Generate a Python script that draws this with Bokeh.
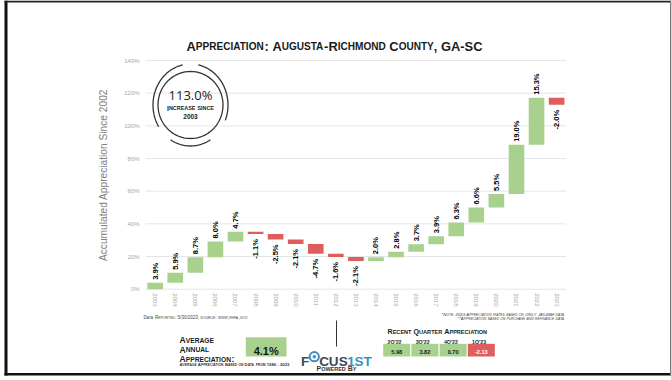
import math
from bokeh.plotting import figure
from bokeh.models import Range1d, LinearAxis, FixedTicker, PrintfTickFormatter, CustomJSTickFormatter
from bokeh.core.properties import value
from bokeh.embed import file_html
from bokeh.resources import INLINE

# ---------------- data ----------------
years = ["2003", "2004", "2005", "2006", "2007", "2008", "2009", "2010", "2011", "2012", "2013",
         "2014", "2015", "2016", "2017", "2018", "2019", "2020", "2021", "2022", "2023"]
rates = [3.9, 5.9, 8.7, 8.0, 4.7, -1.1, -2.5, -2.1, -4.7, -1.6, -2.1,
         2.0, 2.8, 3.7, 3.9, 6.3, 6.6, 5.5, 19.0, 15.3, -2.0]
y_ticks = [0, 20, 40, 60, 80, 100, 120, 140]
total_increase = "113.0%"
since_year = "2003"
avg_annual = "4.1%"
quarters = ["2Q'22", "3Q'22", "4Q'22", "1Q'23"]
quarter_values = [5.98, 3.82, 0.70, -2.13]

# ---------------- layout constants (pixels) ----------------
W, H = 671, 380
PLOT_TOP, PLOT_BOTTOM = 60.0, 288.7      # pixel rows of 140% and 0%
Y_MAX = 140.0
X_FIRST, X_STEP = 154.7, 20.07           # pixel centre of first bar, bar spacing

GREEN = "#A9D18E"
RED = "#E05D5D"
FONT = "Liberation Sans"

p = figure(width=W, height=H, x_range=Range1d(0, W), y_range=Range1d(H, 0),
           x_axis_type=None, y_axis_type=None, toolbar_location=None,
           output_backend="svg", min_border=0, outline_line_color=None,
           background_fill_color="white", border_fill_color="white")
p.min_border_left = p.min_border_right = p.min_border_top = p.min_border_bottom = 0

k = (PLOT_BOTTOM - PLOT_TOP) / Y_MAX
ys0 = -(H - PLOT_BOTTOM) / k
p.extra_y_ranges = {"pct": Range1d(ys0, ys0 + H / k)}
xs0 = -X_FIRST / X_STEP
p.extra_x_ranges = {"yr": Range1d(xs0, xs0 + W / X_STEP)}

# ---------------- small-caps text helper ----------------
BOLD_W = {' ': 278, '!': 333, '%': 889, "'": 238, '*': 389, ',': 278, '-': 333, '.': 278, '/': 278, ':': 333,
          'A': 722, 'B': 722, 'C': 722, 'D': 722, 'E': 667, 'F': 611, 'G': 778, 'H': 722, 'I': 278, 'J': 556,
          'K': 722, 'L': 611, 'M': 833, 'N': 722, 'O': 778, 'P': 667, 'Q': 778, 'R': 722, 'S': 667, 'T': 611,
          'U': 722, 'V': 667, 'W': 944, 'X': 667, 'Y': 667, 'Z': 611}
REG_W = {' ': 278, '!': 278, '%': 889, "'": 191, '*': 389, ',': 278, '-': 333, '.': 278, '/': 278, ':': 278,
         'A': 667, 'B': 667, 'C': 722, 'D': 722, 'E': 667, 'F': 611, 'G': 778, 'H': 722, 'I': 278, 'J': 500,
         'K': 667, 'L': 556, 'M': 833, 'N': 722, 'O': 778, 'P': 667, 'Q': 778, 'R': 722, 'S': 667, 'T': 611,
         'U': 722, 'V': 667, 'W': 944, 'X': 667, 'Y': 667, 'Z': 611}
for d in "0123456789":
    BOLD_W[d] = 556
    REG_W[d] = 556


def small_caps(s, x, y, big=None, width=None, align="left", bold=True, italic=False,
               color="#111111", ratio=0.78):
    table = BOLD_W if bold else REG_W
    segs = []
    cur = 0.0
    buf, buf_sm, buf_start = "", None, 0.0
    for ch in s + "\0":
        if ch in (" ", "\0"):
            if buf:
                segs.append((buf, buf_sm, buf_start))
            buf, buf_sm = "", None
            if ch == " ":
                cur += table[" "] / 1000.0
            continue
        sm = ch.islower()
        if buf and sm != buf_sm:
            segs.append((buf, buf_sm, buf_start))
            buf = ""
        if not buf:
            buf_sm, buf_start = sm, cur
        buf += ch.upper()
        cur += table.get(ch.upper(), 556) / 1000.0 * (ratio if sm else 1.0)
    if big is None:
        big = width / cur
    total = cur * big
    x0 = x - total / 2 if align == "center" else (x - total if align == "right" else x)
    style = "bold" if bold else "normal"
    if italic:
        style = "bold italic" if bold else "italic"
    for t, sm, st in segs:
        size = big * (ratio if sm else 1.0)
        p.text(x=[x0 + st * big], y=[y], text=[t], text_font=value(FONT), text_font_size=f"{size:.2f}px",
               text_font_style=style, text_color=color, text_align="left", text_baseline="alphabetic")


# ---------------- frame border ----------------
p.quad(left=[4, 4, 4, 669.5], right=[7, 671, 671, 671], top=[0, 0, 372.5, 0], bottom=[375, 2, 375, 375],
       fill_color=["#111111", "#222222", "#111111", "#777777"], line_color=None)

# ---------------- title ----------------
small_caps("Appreciation: Augusta-Richmond County, GA-SC", 334, 45.8, width=296, align="center",
           color="#1a1a1a")

# ---------------- gridlines ----------------
p.segment(x0=[-0.48] * len(y_ticks), x1=[20.48] * len(y_ticks), y0=y_ticks, y1=y_ticks,
          line_color="#e2e2e2", line_width=0.9, x_range_name="yr", y_range_name="pct")

# ---------------- waterfall bars ----------------
idx = list(range(len(years)))
lo, hi, cols = [], [], []
level = 1.0
for r in rates:
    start = (level - 1) * 100
    level *= (1 + r / 100.0)
    end = (level - 1) * 100
    lo.append(min(start, end))
    hi.append(max(start, end))
    cols.append(GREEN if r >= 0 else RED)

p.vbar(x=idx, bottom=lo, top=hi, width=0.78, fill_color=cols, line_color=None,
       x_range_name="yr", y_range_name="pct")

pos = [i for i in idx if rates[i] >= 0]
neg = [i for i in idx if rates[i] < 0]
p.text(x=pos, y=[hi[i] for i in pos], text=[f"{rates[i]:.1f}%" for i in pos], angle=math.pi / 2,
       text_align="left", text_baseline="middle", y_offset=-3, text_font=value(FONT),
       text_font_size="7.5px", text_font_style="bold", text_color="#000000",
       x_range_name="yr", y_range_name="pct")
p.text(x=neg, y=[lo[i] for i in neg], text=[f"{rates[i]:.1f}%" for i in neg], angle=math.pi / 2,
       text_align="right", text_baseline="middle", y_offset=5, text_font=value(FONT),
       text_font_size="7.5px", text_font_style="bold", text_color="#000000",
       x_range_name="yr", y_range_name="pct")

# ---------------- axes ----------------
yax = LinearAxis(x_range_name="yr", y_range_name="pct", fixed_location=-0.48, bounds=(0, 140),
                 ticker=FixedTicker(ticks=y_ticks), formatter=PrintfTickFormatter(format="%d%%"),
                 axis_line_color=None, major_tick_line_color=None, minor_tick_line_color=None,
                 major_tick_out=0, major_tick_in=0, minor_tick_out=0, minor_tick_in=0,
                 major_label_standoff=6, major_label_text_font=FONT, major_label_text_font_size="6px",
                 major_label_text_color="#a6a6a6",
                 axis_label="Accumulated Appreciation Since 2002", axis_label_text_font=FONT,
                 axis_label_text_font_size="10.2px", axis_label_text_font_style="normal",
                 axis_label_text_color="#808080", axis_label_standoff=12)
p.add_layout(yax, "left")

xax = LinearAxis(x_range_name="yr", y_range_name="pct", fixed_location=0, bounds=(-0.48, 20.48),
                 ticker=FixedTicker(ticks=idx),
                 formatter=CustomJSTickFormatter(args=dict(years=years),
                                                 code="const i = Math.round(tick); return (i >= 0 && i < years.length) ? years[i] : '';"),
                 major_label_orientation="vertical",
                 axis_line_color=None, major_tick_line_color=None, minor_tick_line_color=None,
                 major_tick_out=0, major_tick_in=0, minor_tick_out=0, minor_tick_in=0,
                 major_label_standoff=4, major_label_text_font=FONT, major_label_text_font_size="6px",
                 major_label_text_color="#a6a6a6")
p.add_layout(xax, "below")

# ---------------- circle call-out (decoration) ----------------
CX, CY = 190, 104.5


def ring(rx, ry, a0, a1, n=60):
    ts = [math.radians(a0 + (a1 - a0) * j / n) for j in range(n + 1)]
    return [CX + rx * math.cos(t) for t in ts], [CY - ry * math.sin(t) for t in ts]


rings = [ring(32.5, 33.5, 0, 360, 120), ring(37.5, 41.0, 102, 212), ring(37.5, 41.0, -22, 78),
         ring(37.5, 41.0, 238, 302)]
p.multi_line(xs=[r[0] for r in rings], ys=[r[1] for r in rings], line_color="#333333", line_width=1.3)
p.text(x=[CX], y=[94], text=[total_increase], text_font=value("Open Sans"), text_font_size="13px",
       text_color="#222222", text_align="center", text_baseline="alphabetic")
small_caps("Increase since", CX, 107.5, width=47, align="center", color="#222222")
p.text(x=[CX], y=[116], text=[since_year], text_font=value(FONT), text_font_size="6.5px",
       text_font_style="bold", text_color="#222222", text_align="center", text_baseline="alphabetic")

# ---------------- footnotes ----------------
small_caps("Data Reported: 5/30/2023, source: www.fhfa.gov", 143, 317, width=104, bold=False, color="#444444")
small_caps("*Note: 2023 Appreciation Rates based on ONLY Jan-Mar data", 564, 314, width=123,
           align="right", bold=False, italic=True, color="#444444")
small_caps("**Appreciation based on purchase and refinance data", 564, 318.3, width=107,
           align="right", bold=False, italic=True, color="#444444")

# ---------------- average annual appreciation ----------------
small_caps("Average", 179, 339.6, big=8.6, color="#1a1a1a")
small_caps("Annual", 179, 349.2, big=8.6, color="#1a1a1a")
small_caps("Appreciation:", 179, 358.6, big=8.6, color="#1a1a1a")
small_caps("Average Appreciation Based on Data from 1980 - 2023", 179, 364.4, width=110, color="#333333")
p.quad(left=[245.3], right=[286], top=[336.7], bottom=[356], fill_color=GREEN, line_color=None)
p.text(x=[265.7], y=[350.5], text=[avg_annual], text_font=value(FONT), text_font_size="11px",
       text_font_style="bold", text_color="#1a1a1a", text_align="center", text_baseline="alphabetic")

# ---------------- logo ----------------
p.segment(x0=[336], x1=[336], y0=[320], y1=[346], line_color="#333333", line_width=1)
logo_chars = ["F", "C", "U", "S", "1", "S", "T"]
logo_x = [304.5, 323.5, 333.2, 342.7, 350.5, 358.5, 367]
logo_c = ["#3a4856", "#3a4856", "#3a4856", "#3a4856", "#3d8fc0", "#3d8fc0", "#3d8fc0"]
p.text(x=logo_x, y=[361] * 7, text=logo_chars, text_font=value(FONT), text_font_size="13.5px",
       text_font_style="bold", text_color=logo_c, text_align="center", text_baseline="alphabetic")
p.circle(x=[313.8], y=[356.2], radius=4.6, radius_units="screen", fill_color=None,
         line_color="#3d8fc0", line_width=2.0)
p.circle(x=[313.8], y=[356.2], radius=1.7, radius_units="screen", fill_color="#3d8fc0", line_color=None)
small_caps("Powered By", 336, 368, width=40, align="center", color="#333333")

# ---------------- recent quarter appreciation ----------------
small_caps("Recent Quarter Appreciation", 387, 331, width=100, color="#1a1a1a")
q_left = [382.7 + 28.2 * i for i in range(len(quarters))]
p.text(x=[l + 4.3 for l in q_left], y=[341] * len(quarters), text=quarters, text_font=value(FONT),
       text_font_size="5.2px", text_font_style="bold", text_color="#1a1a1a",
       text_align="left", text_baseline="alphabetic")
p.quad(left=q_left, right=[l + 27 for l in q_left], top=[343.3] * 4, bottom=[356] * 4,
       fill_color=[GREEN if v >= 0 else RED for v in quarter_values], line_color=None)
p.text(x=[l + 13.5 for l in q_left], y=[351.8] * 4, text=[f"{v:.2f}" for v in quarter_values],
       text_font=value(FONT), text_font_size="5.6px", text_font_style="bold",
       text_color=["#1a1a1a" if v >= 0 else "#ffffff" for v in quarter_values],
       text_align="center", text_baseline="alphabetic")

open("out.html", "w").write(file_html(p, INLINE))
